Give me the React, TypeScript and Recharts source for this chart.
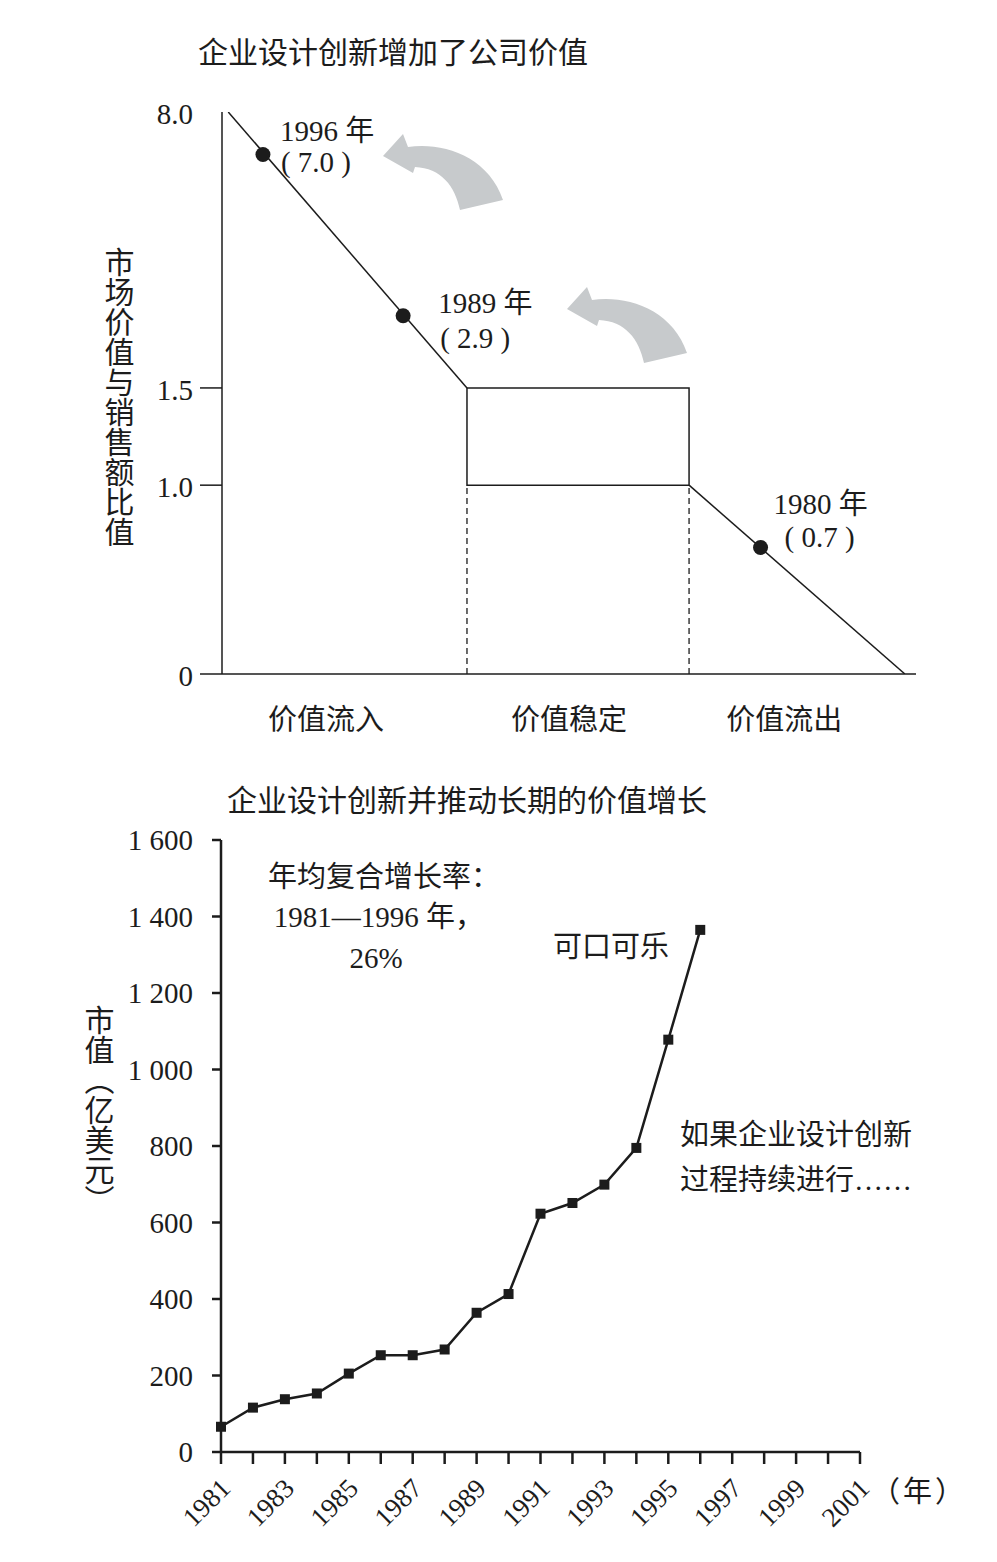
import React from "react";
import {
  ComposedChart,
  Line,
  XAxis,
  YAxis,
  ReferenceArea,
  ReferenceLine,
  LabelList,
  Customized,
} from "recharts";

const SERIF = "'Liberation Serif', 'Times New Roman', 'Noto Sans CJK SC', serif";
const INK = "#1c1c1c";
const ARROW = "#c7cacc";

// ---- top chart: market value / sales ratio ----
const ratioTicks = [0, 1.0, 1.5, 8.0];
const ratioTickLabels = ["0", "1.0", "1.5", "8.0"];
const stageNames = ["价值流入", "价值稳定", "价值流出"];
const stageLabelX = [15, 50, 81];
const inflowLine = [
  { x: 0.9, v: 8.0 },
  { x: 35.3, v: 1.5 },
];
const outflowLine = [
  { x: 67.3, v: 1.0 },
  { x: 98.4, v: 0 },
];
const stableFrom = 35.3;
const stableTo = 67.3;
const stableLow = 1.0;
const stableHigh = 1.5;
const milestoneYears = ["1996 年", "1989 年", "1980 年"];
const milestoneValues = ["( 7.0 )", "( 2.9 )", "( 0.7 )"];
const milestoneX = [5.9, 26.1, 77.6];
const milestoneRatio = [7.0, 3.2, 0.67];

// the ratio axis is broken: each band gets its own share of the height
const AXIS_BREAKS = [0, 1.0, 1.5, 8.0];
const AXIS_SHARE = [0, 0.336, 0.509, 1];
function toAxis(v: number) {
  for (let i = 1; i < AXIS_BREAKS.length; i++) {
    if (v <= AXIS_BREAKS[i] || i === AXIS_BREAKS.length - 1) {
      const a = AXIS_BREAKS[i - 1];
      const b = AXIS_BREAKS[i];
      const t = (v - a) / (b - a);
      return AXIS_SHARE[i - 1] + t * (AXIS_SHARE[i] - AXIS_SHARE[i - 1]);
    }
  }
  return 0;
}

// label offsets next to each milestone dot: [dx1, dy1, dx2, dy2]
const milestoneLabelOffsets = [
  [17, -23, 18, 8],
  [35, -13, 37, 22],
  [13, -43, 24, -10],
];

const milestones = milestoneX.map((x, i) => ({
  x,
  v: milestoneRatio[i],
  year: milestoneYears[i],
  text: milestoneValues[i],
}));

// ---- bottom chart: Coca-Cola market value ----
const years = [1981, 1982, 1983, 1984, 1985, 1986, 1987, 1988, 1989, 1990, 1991, 1992, 1993, 1994, 1995, 1996];
const marketCap = [66, 116, 138, 153, 205, 253, 253, 268, 364, 413, 623, 651, 699, 795, 1078, 1365];
const capTicks = [0, 200, 400, 600, 800, 1000, 1200, 1400, 1600];
const yearTicks = [
  1981, 1982, 1983, 1984, 1985, 1986, 1987, 1988, 1989, 1990, 1991, 1992, 1993, 1994, 1995, 1996, 1997, 1998,
  1999, 2000, 2001,
];

const capData = years.map((year, i) => ({ year, cap: marketCap[i] }));

function RatioTick(props: any) {
  const { x, y, payload } = props;
  const idx = ratioTicks.findIndex((t) => Math.abs(toAxis(t) - payload.value) < 1e-6);
  const label = ratioTickLabels[idx];
  return (
    <g>
      {label !== "8.0" && <line x1={x - 22} x2={x} y1={y} y2={y} stroke={INK} strokeWidth={1.5} />}
      <text x={x - 29} y={y + 2} textAnchor="end" dominantBaseline="central" fontFamily={SERIF} fontSize={29} fill={INK}>
        {label}
      </text>
    </g>
  );
}

function StageTick(props: any) {
  const { x, y, payload } = props;
  const idx = stageLabelX.indexOf(payload.value);
  return (
    <text x={x} y={y} textAnchor="middle" dominantBaseline="central" fontFamily={SERIF} fontSize={29} fill={INK}>
      {stageNames[idx]}
    </text>
  );
}

function MilestoneLabel(props: any) {
  const { x, y, index } = props;
  const [dx1, dy1, dx2, dy2] = milestoneLabelOffsets[index];
  const m = milestones[index];
  return (
    <g fontFamily={SERIF} fontSize={29} fill={INK}>
      <text x={x + dx1} y={y + dy1} dominantBaseline="central">
        {m.year}
      </text>
      <text x={x + dx2} y={y + dy2} dominantBaseline="central">
        {m.text}
      </text>
    </g>
  );
}

function arrowPath(tx: number, ty: number) {
  const p = (dx: number, dy: number) => `${tx + dx},${ty + dy}`;
  return `M${p(0, 0)} L${p(20, -22)} L${p(25, -9)} C${p(60, -14)} ${p(105, 0)} ${p(120, 44)} L${p(77, 54)} C${p(72, 30)} ${p(58, 12)} ${p(32, 11)} L${p(30, 17)} Z`;
}

function TopDecor() {
  return (
    <g>
      <text x={393} y={52} textAnchor="middle" dominantBaseline="central" fontFamily={SERIF} fontSize={30} fill={INK}>
        企业设计创新增加了公司价值
      </text>
      <text
        x={117}
        y={397}
        textAnchor="middle"
        fontFamily={SERIF}
        fontSize={30}
        fill={INK}
        style={{ writingMode: "vertical-rl" }}
      >
        市场价值与销售额比值
      </text>
      <path d={arrowPath(383, 156)} fill={ARROW} />
      <path d={arrowPath(567, 309)} fill={ARROW} />
    </g>
  );
}

function YearTick(props: any) {
  const { x, y, payload } = props;
  if ((payload.value - 1981) % 2 !== 0) return <g />;
  const px = x + 11;
  const py = y + 26;
  return (
    <text
      x={px}
      y={py}
      textAnchor="end"
      transform={`rotate(-45, ${px}, ${py})`}
      fontFamily={SERIF}
      fontSize={27}
      fill={INK}
    >
      {payload.value}
    </text>
  );
}

function SquareDot(props: any) {
  const { cx, cy } = props;
  if (cx == null || cy == null) return <g />;
  return <rect x={cx - 5} y={cy - 5} width={10} height={10} fill={INK} />;
}

function BottomDecor() {
  const t = { fontFamily: SERIF, fontSize: 29, fill: INK };
  return (
    <g>
      <text x={467} y={30} textAnchor="middle" dominantBaseline="central" {...t} fontSize={30}>
        企业设计创新并推动长期的价值增长
      </text>
      <text x={97} y={340} textAnchor="middle" {...t} fontSize={30} style={{ writingMode: "vertical-rl" }}>
        市值（亿美元）
      </text>
      <text x={268} y={107} dominantBaseline="central" {...t}>
        年均复合增长率：
      </text>
      <text x={379} y={147} textAnchor="middle" dominantBaseline="central" {...t}>
        1981—1996 年，
      </text>
      <text x={376} y={188} textAnchor="middle" dominantBaseline="central" {...t}>
        26%
      </text>
      <text x={611} y={177} textAnchor="middle" dominantBaseline="central" {...t}>
        可口可乐
      </text>
      <text x={680} y={365} dominantBaseline="central" {...t}>
        如果企业设计创新
      </text>
      <text x={680} y={410} dominantBaseline="central" {...t}>
        过程持续进行……
      </text>
      <text x={919} y={722} textAnchor="middle" dominantBaseline="central" {...t} fontSize={29} letterSpacing={3}>
        （年）
      </text>
    </g>
  );
}

export default function App() {
  return (
    <div style={{ position: "absolute", left: 0, top: 0, width: 997, height: 1562, background: "#fff" }}>
      <div style={{ position: "absolute", left: 0, top: 0 }}>
        <ComposedChart width={997} height={760} margin={{ top: 112, right: 81, bottom: 26, left: 0 }}>
          <XAxis
            type="number"
            dataKey="x"
            domain={[0, 100]}
            ticks={stageLabelX}
            interval={0}
            tick={<StageTick />}
            tickLine={false}
            tickSize={0}
            tickMargin={46}
            height={60}
            axisLine={{ stroke: INK, strokeWidth: 1.5 }}
            allowDataOverflow
          />
          <YAxis
            type="number"
            domain={[0, 1]}
            ticks={ratioTicks.map(toAxis)}
            interval={0}
            tick={<RatioTick />}
            tickLine={false}
            tickSize={0}
            tickMargin={0}
            width={222}
            axisLine={{ stroke: INK, strokeWidth: 1.5 }}
            allowDataOverflow
          />
          <ReferenceArea
            x1={stableFrom}
            x2={stableTo}
            y1={toAxis(stableLow)}
            y2={toAxis(stableHigh)}
            fill="none"
            stroke={INK}
            strokeWidth={1.5}
          />
          <ReferenceLine
            segment={[
              { x: stableFrom, y: 0 },
              { x: stableFrom, y: toAxis(stableLow) },
            ]}
            stroke={INK}
            strokeWidth={1.3}
            strokeDasharray="6 4"
          />
          <ReferenceLine
            segment={[
              { x: stableTo, y: 0 },
              { x: stableTo, y: toAxis(stableLow) },
            ]}
            stroke={INK}
            strokeWidth={1.3}
            strokeDasharray="6 4"
          />
          <Line
            data={inflowLine}
            dataKey={(d: any) => toAxis(d.v)}
            type="linear"
            stroke={INK}
            strokeWidth={1.5}
            dot={false}
            isAnimationActive={false}
          />
          <Line
            data={outflowLine}
            dataKey={(d: any) => toAxis(d.v)}
            type="linear"
            stroke={INK}
            strokeWidth={1.5}
            dot={false}
            isAnimationActive={false}
          />
          <Line
            data={milestones}
            dataKey={(d: any) => toAxis(d.v)}
            type="linear"
            stroke="none"
            dot={{ r: 7.5, fill: INK, stroke: "none" }}
            activeDot={false}
            isAnimationActive={false}
          >
            <LabelList dataKey="year" content={<MilestoneLabel />} />
          </Line>
          <Customized component={<TopDecor />} />
        </ComposedChart>
      </div>
      <div style={{ position: "absolute", left: 0, top: 770 }}>
        <ComposedChart width={997} height={792} data={capData} margin={{ top: 70, right: 137, bottom: 30, left: 0 }}>
          <XAxis
            type="number"
            dataKey="year"
            domain={[1981, 2001]}
            ticks={yearTicks}
            interval={0}
            tick={<YearTick />}
            tickSize={12}
            tickMargin={0}
            height={80}
            axisLine={{ stroke: INK, strokeWidth: 2.5 }}
            tickLine={{ stroke: INK, strokeWidth: 2.5 }}
          />
          <YAxis
            type="number"
            domain={[0, 1600]}
            ticks={capTicks}
            interval={0}
            width={221}
            tickSize={9}
            tickMargin={19}
            tickFormatter={(v: number) => (v >= 1000 ? `${Math.floor(v / 1000)} ${String(v % 1000).padStart(3, "0")}` : `${v}`)}
            tick={{ fontFamily: SERIF, fontSize: 29, fill: INK }}
            axisLine={{ stroke: INK, strokeWidth: 2.5 }}
            tickLine={{ stroke: INK, strokeWidth: 2.5 }}
          />
          <Line
            dataKey="cap"
            type="linear"
            stroke={INK}
            strokeWidth={2.5}
            dot={<SquareDot />}
            activeDot={false}
            isAnimationActive={false}
          />
          <Customized component={<BottomDecor />} />
        </ComposedChart>
      </div>
    </div>
  );
}
